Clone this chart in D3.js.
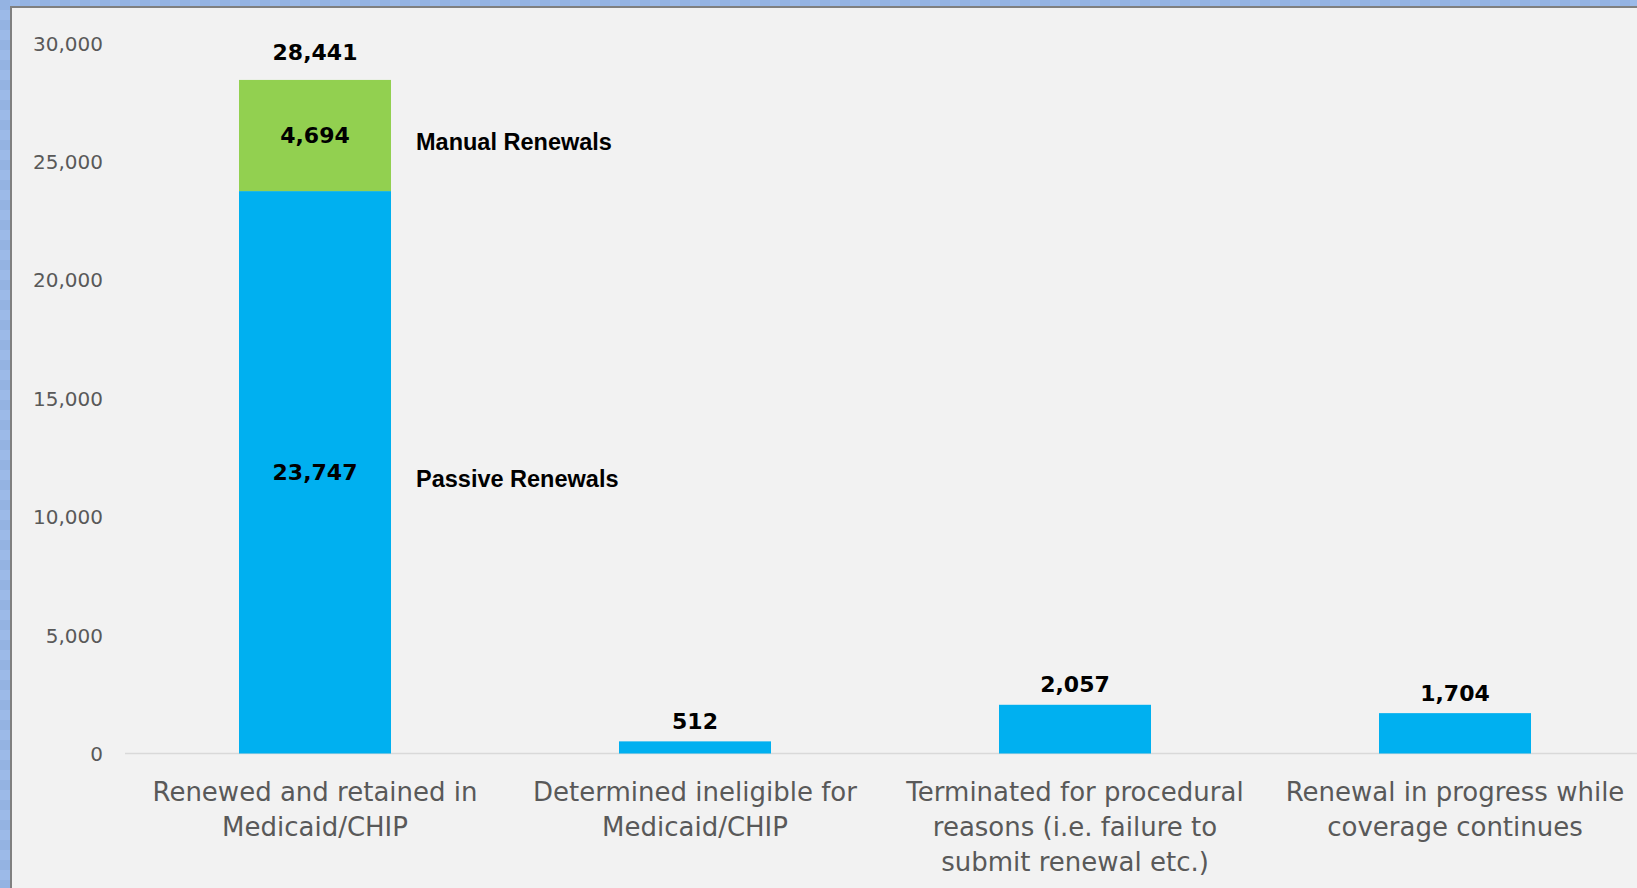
<!DOCTYPE html>
<html>
<head>
<meta charset="utf-8">
<script src="https://cdn.jsdelivr.net/npm/d3@7"></script>
<style>
  html, body { margin: 0; padding: 0; background: #97b5e5; overflow: hidden; }
  svg { display: block; }
</style>
</head>
<body>
<svg id="chart" width="1637" height="888"></svg>
<script>
// Medicaid/CHIP renewal outcomes
const categories = [
  ["Renewed and retained in", "Medicaid/CHIP"],
  ["Determined ineligible for", "Medicaid/CHIP"],
  ["Terminated for procedural", "reasons (i.e. failure to", "submit renewal etc.)"],
  ["Renewal in progress while", "coverage continues"]
];
const passiveValues = [23747, 512, 2057, 1704];
const manualValues  = [4694, 0, 0, 0];
const totalValues   = [28441, 512, 2057, 1704];
const segmentNames  = ["Passive Renewals", "Manual Renewals"];
const yTicks = [0, 5000, 10000, 15000, 20000, 25000, 30000];

const W = 1637, H = 888;
const svg = d3.select("#chart");

// window frame: faint checkered blue backdrop, grey rule, light panel
const defs = svg.append("defs");
const pat = defs.append("pattern").attr("id", "checker")
  .attr("width", 20).attr("height", 20).attr("patternUnits", "userSpaceOnUse");
pat.append("rect").attr("width", 20).attr("height", 20).attr("fill", "#9cbae8");
pat.append("rect").attr("width", 10).attr("height", 10).attr("fill", "#94b3e2");
pat.append("rect").attr("x", 10).attr("y", 10).attr("width", 10).attr("height", 10).attr("fill", "#94b3e2");
svg.append("rect").attr("width", W).attr("height", H).attr("fill", "url(#checker)");
svg.append("rect").attr("x", 10).attr("y", 6).attr("width", W).attr("height", H).attr("fill", "#808080");
svg.append("rect").attr("x", 12).attr("y", 8).attr("width", W).attr("height", H).attr("fill", "#f2f2f2");

const x = d3.scaleBand().domain(d3.range(categories.length)).range([125, 1645]).paddingInner(0.6).paddingOuter(0.3);
const y = d3.scaleLinear().domain([0, 30000]).range([753.5, 43]);

// y axis labels
const yAxis = svg.append("g").attr("transform", "translate(103,0)")
  .call(d3.axisLeft(y).tickValues(yTicks).tickSize(0).tickPadding(0).tickFormat(d3.format(",")));
yAxis.select(".domain").remove();
yAxis.selectAll("text")
  .attr("font-family", "DejaVu Sans, Verdana, sans-serif")
  .attr("font-size", 20).attr("fill", "#595959").attr("dy", "0.35em");

// baseline
svg.append("line").attr("x1", 125).attr("x2", W).attr("y1", y(0)).attr("y2", y(0))
  .attr("stroke", "#d9d9d9").attr("stroke-width", 1.5);

// stacked bars
const rows = categories.map((c, i) => ({ i, passive: passiveValues[i], manual: manualValues[i] }));
const stack = d3.stack().keys(["passive", "manual"])(rows);
const colors = { passive: "#00b0f0", manual: "#92d050" };
stack.forEach(layer => {
  svg.append("g").selectAll("rect").data(layer.filter(d => d[1] > d[0])).join("rect")
    .attr("x", d => x(d.data.i)).attr("width", x.bandwidth())
    .attr("y", d => y(d[1])).attr("height", d => y(d[0]) - y(d[1]))
    .attr("fill", colors[layer.key]);
});

// value labels inside the stacked bar
stack.forEach(layer => {
  svg.append("g").selectAll("text")
    .data(layer.filter(d => d.data.i === 0 && d[1] > d[0])).join("text")
    .attr("x", d => x(d.data.i) + x.bandwidth() / 2)
    .attr("y", d => y((d[0] + d[1]) / 2))
    .attr("dy", "0.35em").attr("text-anchor", "middle")
    .attr("font-family", "DejaVu Sans, Verdana, sans-serif").attr("font-weight", "bold")
    .attr("font-size", 22).attr("fill", "#000")
    .text(d => d3.format(",")(d[1] - d[0]));
});

// segment names beside the stacked bar
stack.forEach(layer => {
  const d = layer[0];
  svg.append("text")
    .attr("x", x(0) + x.bandwidth() + 25)
    .attr("y", y((d[0] + d[1]) / 2) + 6)
    .attr("dy", "0.35em")
    .attr("font-family", "Liberation Sans, Arial, sans-serif").attr("font-weight", "bold")
    .attr("font-size", 23.5).attr("fill", "#000")
    .text(layer.key === "passive" ? segmentNames[0] : segmentNames[1]);
});

// totals above bars
svg.append("g").selectAll("text").data(totalValues).join("text")
  .attr("x", (d, i) => x(i) + x.bandwidth() / 2)
  .attr("y", (d, i) => y(d) - (i === 0 ? 28 : 20))
  .attr("dy", "0.35em").attr("text-anchor", "middle")
  .attr("font-family", "DejaVu Sans, Verdana, sans-serif").attr("font-weight", "bold")
  .attr("font-size", 22).attr("fill", "#000")
  .text(d => d3.format(",")(d));

// category labels
const cat = svg.append("g").selectAll("text").data(categories).join("text")
  .attr("text-anchor", "middle")
  .attr("font-family", "DejaVu Sans, Verdana, sans-serif")
  .attr("font-size", 26).attr("fill", "#595959");
cat.selectAll("tspan").data((d, i) => d.map(line => ({ line, i }))).join("tspan")
  .attr("x", d => x(d.i) + x.bandwidth() / 2)
  .attr("y", (d, j) => 792 + j * 35)
  .attr("dy", "0.35em")
  .text(d => d.line);
</script>
</body>
</html>
